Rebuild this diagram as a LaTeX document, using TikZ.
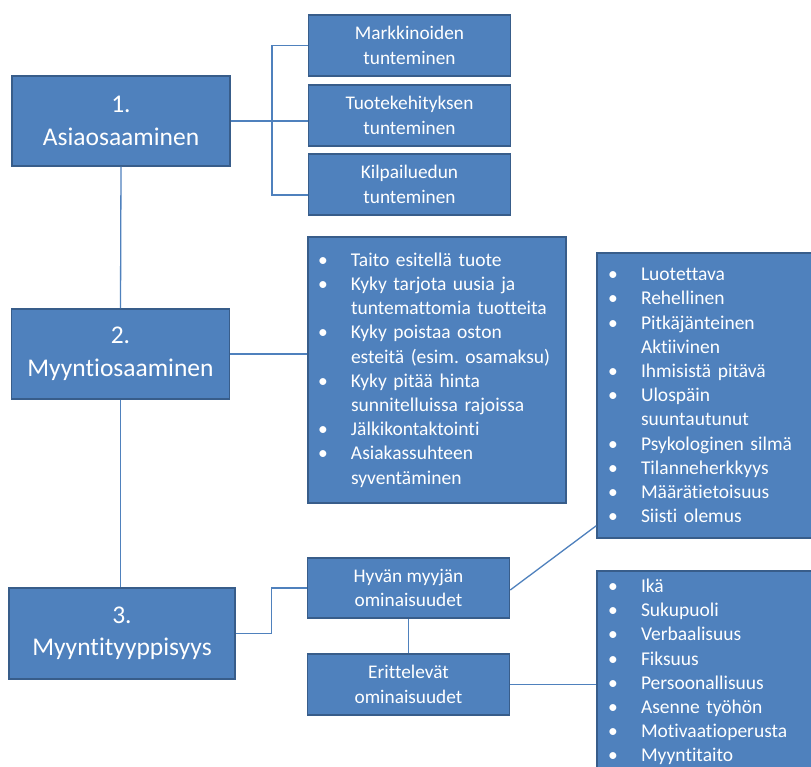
\documentclass[tikz,border=0pt]{standalone}
\usepackage{fontspec}
\setmainfont{Carlito}[Ligatures=NoCommon]
\frenchspacing
\definecolor{boxblue}{HTML}{4F81BD}
\definecolor{boxedge}{HTML}{385D8A}
\definecolor{linkblue}{HTML}{4F81BD}
\newcommand{\blt}{\makebox[33pt][l]{\textbullet}}
\newcommand{\cnt}{\hspace*{33pt}}
\tikzset{
  box/.style={draw=boxedge, fill=boxblue, line width=1.5pt, text=white, align=center, inner sep=0pt},
  bigbox/.style={box, minimum width=218pt, minimum height=90pt, font=\fontsize{25.5}{32.5}\selectfont},
  smallbox/.style={box, minimum width=202pt, minimum height=61pt, font=\fontsize{19.3}{24.5}\selectfont},
  listbox/.style={box, align=left, font=\fontsize{19.5}{24.2}\selectfont},
  link/.style={draw=linkblue, line width=1.3pt}
}
\begin{document}
\begin{tikzpicture}[x=1pt, y=-1pt]
  \path[use as bounding box, fill=white] (0,0) rectangle (811,767);
  % Main levels
  \node[bigbox] (a1) at (121,121) {1.\\Asiaosaaminen};
  \node[bigbox] (a2) at (120.5,354) {2.\\Myyntiosaaminen};
  \node[bigbox, minimum width=226pt, minimum height=91pt] (a3) at (122,633.5) {3.\\Myyntityyppisyys};
  % Level 1 branches
  \node[smallbox] (m1) at (409.5,45.5) {Markkinoiden\\tunteminen};
  \node[smallbox] (m2) at (409.5,115.5) {Tuotekehityksen\\tunteminen};
  \node[smallbox] (m3) at (409.5,184.5) {Kilpailuedun\\tunteminen};
  % Level 2 list
  \node[listbox, inner xsep=10pt, text width=238pt, minimum height=266pt] (l2) at (437,370) {%
    \blt Taito esitellä tuote\\
    \blt Kyky tarjota uusia ja\\
    \cnt tuntemattomia tuotteita\\
    \blt Kyky poistaa oston\\
    \cnt esteitä (esim. osamaksu)\\
    \blt Kyky pitää hinta\\
    \cnt sunnitelluissa rajoissa\\
    \blt Jälkikontaktointi\\
    \blt Asiakassuhteen\\
    \cnt syventäminen};
  % Level 3 branches
  \node[smallbox, minimum height=60pt] (h) at (408.5,588) {Hyvän myyjän\\ominaisuudet};
  \node[smallbox] (e) at (408.5,684.5) {Erittelevät\\ominaisuudet};
  \node[listbox, inner xsep=11pt, text width=206pt, minimum height=285pt] (tr) at (711,395.5) {%
    \blt Luotettava\\
    \blt Rehellinen\\
    \blt Pitkäjänteinen\\
    \cnt Aktiivinen\\
    \blt Ihmisistä pitävä\\
    \blt Ulospäin\\
    \cnt suuntautunut\\
    \blt Psykologinen silmä\\
    \blt Tilanneherkkyys\\
    \blt Määrätietoisuus\\
    \blt Siisti olemus};
  \node[listbox, inner xsep=11pt, text width=206pt, minimum height=202pt] (br) at (711,672) {%
    \blt Ikä\\
    \blt Sukupuoli\\
    \blt Verbaalisuus\\
    \blt Fiksuus\\
    \blt Persoonallisuus\\
    \blt Asenne työhön\\
    \blt Motivaatioperusta\\
    \blt Myyntitaito};
  % Connectors
  \coordinate (k1) at (272,195);
  \draw[link] (a1.east) -- (a1.east -| m2.west);
  \draw[link] (m1.west) -| (k1) -- (k1 -| m3.west);
  \draw[link] (a1.south) -- (a2.north);
  \draw[link] (a2.south) -- (a2.south |- a3.north);
  \draw[link] (a2.east) -- (a2.east -| l2.west);
  \draw[link] (a3.east) -- ++(36,0) |- (h.west);
  \draw[link] (h.south) -- (e.north);
  \draw[link] ([yshift=-2pt]h.east) -- ([yshift=13pt]tr.south west);
  \draw[link] (e.east) -- (e.east -| br.west);
\end{tikzpicture}
\end{document}
